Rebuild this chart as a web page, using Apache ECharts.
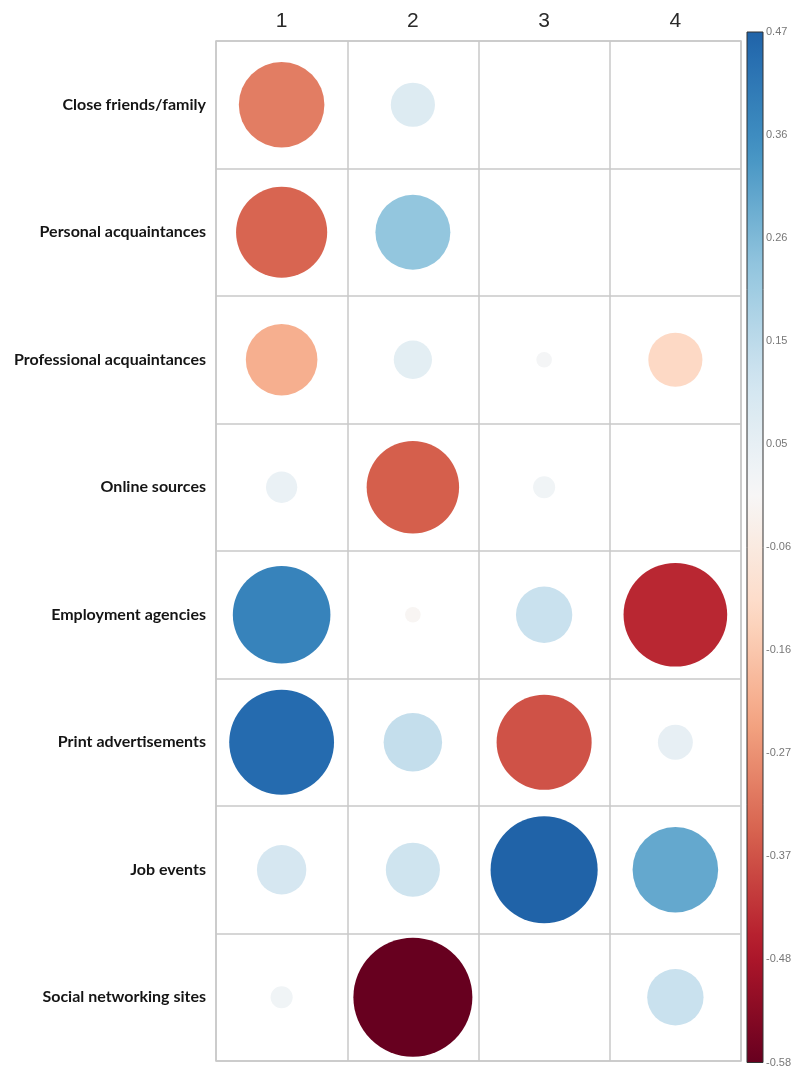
<!DOCTYPE html>
<html>
<head>
<meta charset="utf-8">
<script src="https://cdn.jsdelivr.net/npm/echarts@6/dist/echarts.min.js"></script>
<style>
  html, body { margin: 0; padding: 0; background: #fff; }
  #chart { width: 804px; height: 1068px; }
</style>
</head>
<body>
<div id="chart"></div>
<script>
// Column headings and row labels
const columns = ['1', '2', '3', '4'];
const rows = [
  'Close friends/family',
  'Personal acquaintances',
  'Professional acquaintances',
  'Online sources',
  'Employment agencies',
  'Print advertisements',
  'Job events',
  'Social networking sites'
];

// Correlation values per column, one entry per row (top to bottom)
const col1 = [-0.30, -0.34, -0.21, 0.04, 0.39, 0.45, 0.10, 0.02];
const col2 = [0.08, 0.23, 0.06, -0.35, -0.01, 0.14, 0.12, -0.58];
const col3 = [0.00, 0.00, 0.01, 0.02, 0.13, -0.37, 0.47, 0.00];
const col4 = [0.00, 0.00, -0.12, 0.00, -0.44, 0.05, 0.30, 0.13];

// Colour bar range and its tick labels (bottom to top)
const barMin = -0.58;
const barMax = 0.47;
const barTicks = ['-0.58', '-0.48', '-0.37', '-0.27', '-0.16', '-0.06', '0.05', '0.15', '0.26', '0.36', '0.47'];

// Diverging red-blue palette, centred on zero
const rdbu = ['#67001f', '#b2182b', '#d6604d', '#f4a582', '#fddbc7', '#f7f7f7',
              '#d1e5f0', '#92c5de', '#4393c3', '#2166ac', '#053061'];
const absMax = Math.max(Math.abs(barMin), Math.abs(barMax));

function hexToRgb(h) {
  return [parseInt(h.slice(1, 3), 16), parseInt(h.slice(3, 5), 16), parseInt(h.slice(5, 7), 16)];
}
function colorFor(v) {
  let t = (v + absMax) / (2 * absMax);
  t = Math.min(1, Math.max(0, t));
  const pos = t * (rdbu.length - 1);
  const i = Math.min(rdbu.length - 2, Math.floor(pos));
  const f = pos - i;
  const a = hexToRgb(rdbu[i]), b = hexToRgb(rdbu[i + 1]);
  const c = a.map((x, k) => Math.round(x + (b[k] - x) * f));
  return 'rgb(' + c.join(',') + ')';
}

// Scatter points: [column index, row index, value]
const columnsData = [col1, col2, col3, col4];
const points = [];
columnsData.forEach((vals, ci) => {
  vals.forEach((v, ri) => points.push([ci, ri, v]));
});

// Gradient for the colour bar, from top (max) to bottom (min)
const gradStops = [];
const N = 40;
for (let k = 0; k <= N; k++) {
  const v = barMax - (barMax - barMin) * k / N;
  gradStops.push({ offset: k / N, color: colorFor(v) });
}

const maxDiameter = 119;

const chart = echarts.init(document.getElementById('chart'), null, { renderer: 'canvas' });

chart.setOption({
  backgroundColor: '#ffffff',
  animation: false,
  grid: [
    { left: 216, right: 63, top: 41, bottom: 7, show: true, borderColor: '#c9c9c9', borderWidth: 1.5 },
    { left: 747, width: 16, top: 32, bottom: 5 }
  ],
  xAxis: [
    {
      gridIndex: 0,
      type: 'category',
      data: columns,
      position: 'top',
      axisLine: { show: false },
      axisTick: { show: false },
      axisLabel: { fontSize: 21, color: '#2a2a2a', margin: 9, fontFamily: 'Liberation Sans' },
      splitLine: { show: true, interval: 0, lineStyle: { color: '#c9c9c9', width: 1.5 } }
    },
    {
      gridIndex: 1,
      type: 'value',
      min: 0,
      max: 1,
      show: false
    }
  ],
  yAxis: [
    {
      gridIndex: 0,
      type: 'category',
      data: rows,
      inverse: true,
      axisLine: { show: false },
      axisTick: { show: false },
      axisLabel: {
        fontSize: 16, fontWeight: 'bold', color: '#151515', margin: 10,
        fontFamily: 'Lato'
      },
      splitLine: { show: true, interval: 0, lineStyle: { color: '#c9c9c9', width: 1.5 } }
    },
    {
      gridIndex: 1,
      type: 'value',
      position: 'right',
      min: 0,
      max: 10,
      interval: 1,
      axisLine: { show: false },
      axisTick: { show: true, length: 5, lineStyle: { color: '#444', width: 1 } },
      axisLabel: {
        fontSize: 11, color: '#777', margin: 3, fontFamily: 'Liberation Sans',
        formatter: (val) => barTicks[Math.round(val)]
      },
      splitLine: { show: false }
    }
  ],
  series: [
    {
      type: 'scatter',
      xAxisIndex: 0,
      yAxisIndex: 0,
      data: points,
      symbol: 'circle',
      symbolSize: (d) => maxDiameter * Math.sqrt(Math.abs(d[2]) / absMax),
      itemStyle: {
        color: (p) => colorFor(p.data[2]),
        opacity: 1
      },
      silent: true
    },
    {
      type: 'custom',
      xAxisIndex: 1,
      yAxisIndex: 1,
      data: [[0, 0]],
      silent: true,
      renderItem: (params, api) => {
        const tl = api.coord([0, 10]);
        const br = api.coord([1, 0]);
        return {
          type: 'rect',
          shape: { x: tl[0], y: tl[1], width: br[0] - tl[0], height: br[1] - tl[1] },
          style: {
            fill: new echarts.graphic.LinearGradient(0, 0, 0, 1, gradStops),
            stroke: '#333',
            lineWidth: 1
          }
        };
      }
    }
  ]
});
</script>
</body>
</html>
